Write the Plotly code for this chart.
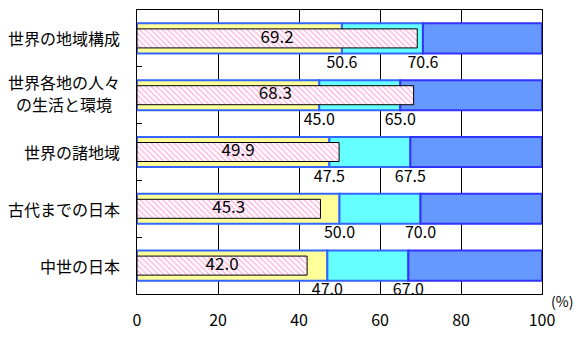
import plotly.graph_objects as go

# Unit names (top to bottom) and survey results (%)
categories = ["世界の地域構成", "世界各地の人々<br>の生活と環境", "世界の諸地域", "古代までの日本", "中世の日本"]
scores = [69.2, 68.3, 49.9, 45.3, 42.0]          # hatched bars
band_low = [50.6, 45.0, 47.5, 50.0, 47.0]        # end of yellow band
band_high = [70.6, 65.0, 67.5, 70.0, 67.0]       # end of cyan band
x_ticks = [0, 20, 40, 60, 80, 100]

FONT = "Noto Sans CJK JP, Noto Sans, sans-serif"
pos = list(range(len(categories)))

fig = go.Figure()

# Three background bands drawn with explicit bases
seg_yellow = band_low
seg_cyan = [h - l for h, l in zip(band_high, band_low)]
seg_blue = [100 - h for h in band_high]

fig.add_trace(go.Bar(y=pos, x=seg_yellow, base=[0] * len(pos), orientation="h", width=0.53,
                     marker=dict(color="#FFFF99", line=dict(color="#3366FF", width=2)),
                     hoverinfo="skip", showlegend=False))
fig.add_trace(go.Bar(y=pos, x=seg_cyan, base=band_low, orientation="h", width=0.53,
                     marker=dict(color="#66FFFF", line=dict(color="#3366FF", width=2)),
                     hoverinfo="skip", showlegend=False))
fig.add_trace(go.Bar(y=pos, x=seg_blue, base=band_high, orientation="h", width=0.53,
                     marker=dict(color="#6699FF", line=dict(color="#3333FF", width=2)),
                     hoverinfo="skip", showlegend=False))

# Hatched score bars on top
fig.add_trace(go.Bar(y=pos, x=scores, orientation="h", width=0.335,
                     marker=dict(color="white",
                                 pattern=dict(shape="\\", fgcolor="#FF66C0", bgcolor="white",
                                              size=4, solidity=0.35),
                                 line=dict(color="black", width=1)),
                     hoverinfo="skip", showlegend=False))

# Score labels centred in the hatched bars
fig.add_trace(go.Scatter(x=[s / 2 for s in scores], y=pos, mode="text",
                         text=[f"{s:.1f}" for s in scores], textposition="middle center",
                         textfont=dict(family=FONT, size=17, color="black"),
                         hoverinfo="skip", showlegend=False))

# Band boundary labels under each bar
fig.add_trace(go.Scatter(x=band_low + band_high, y=[p + 0.45 for p in pos] * 2, mode="text",
                         text=[f"{v:.1f}" for v in band_low + band_high],
                         textposition="middle center", cliponaxis=True,
                         textfont=dict(family=FONT, size=16, color="black"),
                         hoverinfo="skip", showlegend=False))

# Category labels to the left of the plot; wrapped names are stacked line by line
for p, c in zip(pos, categories):
    lines = c.split("<br>")
    if len(lines) == 1:
        fig.add_annotation(x=-0.036, xref="paper", y=p, yref="y", text=c, showarrow=False,
                           xanchor="right", yanchor="middle",
                           font=dict(family=FONT, size=16, color="black"))
    else:
        for k, ln in enumerate(lines):
            fig.add_annotation(x=-0.18, xref="paper", y=p, yref="y", text=ln, showarrow=False,
                               xanchor="center", yanchor="middle",
                               yshift=13 - k * 22,
                               font=dict(family=FONT, size=16, color="black"))

# Unit mark next to the end of the value axis
fig.add_annotation(x=1.05, xref="paper", y=-0.025, yref="paper", text="(%)", showarrow=False,
                   xanchor="center", yanchor="middle",
                   font=dict(family=FONT, size=14, color="black"))

fig.update_layout(
    width=579, height=341,
    margin=dict(l=137, r=37, t=10, b=47),
    barmode="overlay",
    plot_bgcolor="white", paper_bgcolor="white",
    font=dict(family=FONT, size=16, color="black"),
    xaxis=dict(range=[0, 100], tickvals=x_ticks, ticktext=[str(t) for t in x_ticks],
               showgrid=True, gridcolor="black", gridwidth=1, zeroline=False,
               showline=True, linecolor="black", linewidth=1, mirror=True,
               ticks="", ticklabelstandoff=12, tickfont=dict(family=FONT, size=16)),
    yaxis=dict(range=[4.5, -0.5], tickvals=[0.5, 1.5, 2.5, 3.5], ticks="inside", ticklen=5,
               tickcolor="black", showticklabels=False, showgrid=False, zeroline=False,
               showline=True, linecolor="black", linewidth=1, mirror=True),
)

fig.write_html("out.html")
